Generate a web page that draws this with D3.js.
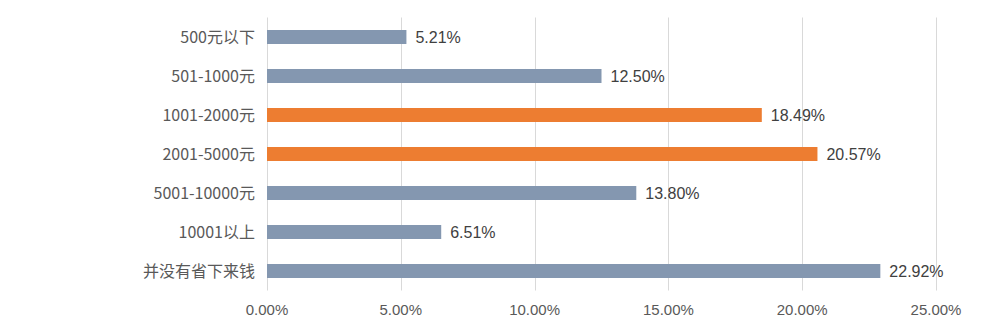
<!DOCTYPE html>
<html>
<head>
<meta charset="utf-8">
<script src="https://cdn.jsdelivr.net/npm/d3@7"></script>
<style>
  html, body { margin: 0; padding: 0; background: #fff; }
  svg { display: block; }
</style>
</head>
<body>
<svg id="chart" width="983" height="326"></svg>
<script>
// Savings-range categories, top to bottom
const categories = ["500元以下", "501-1000元", "1001-2000元", "2001-5000元", "5001-10000元", "10001以上", "并没有省下来钱"];
// Share of respondents, in percent
const values = [5.21, 12.50, 18.49, 20.57, 13.80, 6.51, 22.92];
// Highlighted ranges drawn in orange
const highlighted = ["1001-2000元", "2001-5000元"];
// X axis ticks, in percent
const xTicks = [0, 5, 10, 15, 20, 25];

const svg = d3.select("#chart");
const margin = { left: 267, right: 47, top: 17.5, bottom: 35.5 };
const W = 983, H = 326;

const x = d3.scaleLinear().domain([0, 25]).range([margin.left, W - margin.right]);
const y = d3.scaleBand().domain(categories).range([margin.top, H - margin.bottom]).paddingInner(0.641).paddingOuter(0.3205);

// Vertical gridlines
svg.append("g").selectAll("line").data(xTicks).join("line")
  .attr("x1", d => Math.round(x(d)) + 0.5).attr("x2", d => Math.round(x(d)) + 0.5)
  .attr("y1", margin.top).attr("y2", H - margin.bottom)
  .attr("stroke", "#d9d9d9").attr("stroke-width", 1);

// Tick labels
svg.append("g").selectAll("text").data(xTicks).join("text")
  .attr("x", d => x(d)).attr("y", 315)
  .attr("text-anchor", "middle")
  .attr("font-family", "'Liberation Sans', Arial, sans-serif")
  .attr("font-size", 15).attr("fill", "#595959")
  .text(d => d3.format(".2f")(d) + "%");

// Bars
svg.append("g").selectAll("rect").data(categories).join("rect")
  .attr("x", x(0)).attr("y", d => y(d))
  .attr("width", (d, i) => x(values[i]) - x(0))
  .attr("height", y.bandwidth())
  .attr("fill", d => highlighted.includes(d) ? "#ed7d31" : "#8497b0");

// Value labels
svg.append("g").selectAll("text").data(categories).join("text")
  .attr("x", (d, i) => x(values[i]) + 9)
  .attr("y", d => y(d) + y.bandwidth() / 2)
  .attr("dy", "0.36em")
  .attr("font-family", "'Liberation Sans', Arial, sans-serif")
  .attr("font-size", 16).attr("fill", "#404040")
  .text((d, i) => d3.format(".2f")(values[i]) + "%");

// Category labels
svg.append("g").selectAll("text").data(categories).join("text")
  .attr("x", 255)
  .attr("y", d => y(d) + y.bandwidth() / 2)
  .attr("dy", "0.36em")
  .attr("text-anchor", "end")
  .attr("font-family", "'Noto Sans CJK SC', sans-serif")
  .attr("font-size", 16).attr("fill", "#595959")
  .text(d => d);
</script>
</body>
</html>
